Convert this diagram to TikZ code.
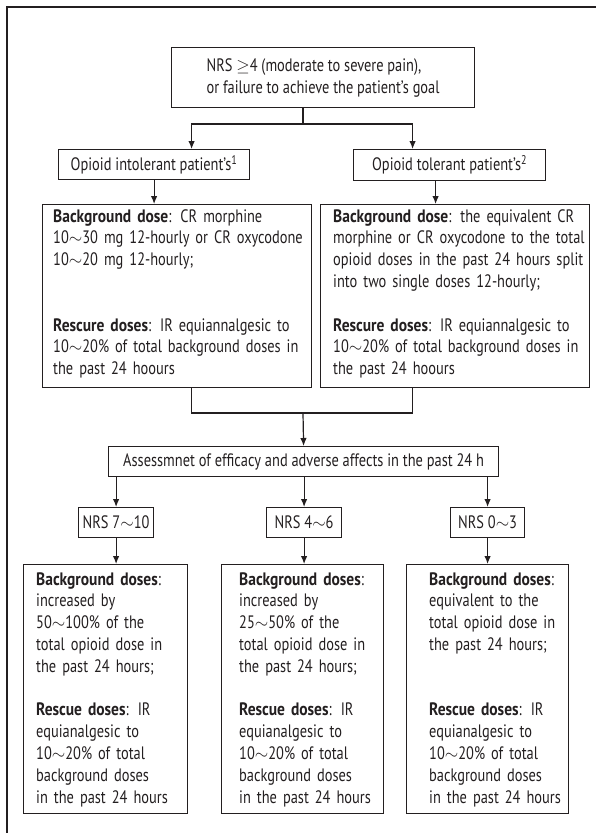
\documentclass[tikz,border=0pt]{standalone}
\usepackage{fontspec}
\setmainfont{PT Sans}[FakeStretch=0.80, BoldFeatures={FakeStretch=0.86}]
\usetikzlibrary{arrows.meta}
\definecolor{ink}{HTML}{231F20}
\newcommand\mytilde{\ensuremath{{\sim}}}
\hyphenpenalty=10000
\exhyphenpenalty=10000
\begin{document}
\begin{tikzpicture}[x=1pt,y=-1pt,
  box/.style={draw=ink, line width=1.2pt, inner sep=0pt, anchor=north west},
  txt/.style={inner sep=0pt, anchor=base west, text width=#1, align=left,
    font=\fontsize{18}{21.8}\selectfont, text=ink},
  lbl/.style={font=\fontsize{18}{22}\selectfont, text=ink},
  arr/.style={draw=ink, line width=1.2pt, -{Latex[length=8pt,width=6.5pt]}},
  con/.style={draw=ink, line width=1.2pt},
]
\useasboundingbox (0,0) rectangle (596,833);
\draw[line width=1.4pt, draw=ink] (7,834) -- (7,7) -- (597,7);

% top
\node[box, lbl, align=left, minimum width=303pt, minimum height=60pt] (top) at (171,47)
  {NRS \ensuremath{\geq}4 (moderate to severe pain),\\or failure to achieve the patient’s goal};

\node[box, lbl, minimum width=191pt, minimum height=30pt] (intol) at (58,149)
  {Opioid intolerant patient’s\textsuperscript{1}};
\node[box, lbl, minimum width=192pt, minimum height=31pt] (tol) at (353,149)
  {Opioid tolerant patient’s\textsuperscript{2}};

\coordinate (fork) at (303,124);
\draw[con] (top.south -| fork) -- (fork);
\draw[arr] (fork) -| ([xshift=37.5pt]intol.north);
\draw[arr] (fork) -| ([xshift=-37pt]tol.north);

% background boxes
\node[box, minimum width=269pt, minimum height=183pt] (bgL) at (42,204) {};
\node[box, minimum width=269pt, minimum height=183pt] (bgR) at (320,204) {};
\node[txt=264pt] (bgLt) at (53,222) {\textbf{Background dose}: CR morphine\\
10\mytilde30 mg 12-hourly or CR oxycodone\\
10\mytilde20 mg 12-hourly;\\[43.6pt]
\textbf{Rescure doses}: IR equiannalgesic to\\
10\mytilde20\% of total background doses in\\
the past 24 hoours};
\node[txt=260pt] (bgRt) at (333,222) {\textbf{Background dose}: the equivalent CR\\
morphine or CR oxycodone to the total\\
opioid doses in the past 24 hours split\\
into two single doses 12-hourly;\\[21.8pt]
\textbf{Rescure doses}: IR equiannalgesic to\\
10\mytilde20\% of total background doses in\\
the past 24 hoours};

\draw[arr] (intol.south) -- (intol.south |- bgL.north);
\draw[arr] ([xshift=-14pt]tol.south) -- ([xshift=-14pt]tol.south |- bgR.north);

% merge
\node[box, lbl, minimum width=390pt, minimum height=30pt] (assess) at (108,446)
  {Assessmnet of efficacy and adverse affects in the past 24 h};
\coordinate (merge) at (303,413);
\draw[con] ([xshift=14.5pt]bgL.south) |- (merge);
\draw[con] ([xshift=-42.5pt]bgR.south) |- (merge);
\draw[arr] (merge) -- (assess.north);

% NRS boxes
\node[box, lbl, minimum width=75pt, minimum height=30pt] (n1) at (78,507) {NRS 7\mytilde10};
\node[box, lbl, minimum width=75pt, minimum height=30pt] (n2) at (266,507) {NRS 4\mytilde6};
\node[box, lbl, minimum width=74pt, minimum height=30pt] (n3) at (450,507) {NRS 0\mytilde3};
\draw[arr] (assess.south -| n1.north) -- (n1.north);
\draw[arr] (assess.south -| n2.north) -- (n2.north);
\draw[arr] (assess.south -| n3.north) -- (n3.north);

% lower boxes
\node[box, minimum width=164pt, minimum height=249pt] (l1) at (23,564) {};
\node[box, minimum width=162pt, minimum height=249pt] (l2) at (221,564) {};
\node[box, minimum width=162pt, minimum height=249pt] (l3) at (406,564) {};
\draw[arr] (n1.south) -- (n1.south |- l1.north);
\draw[arr] (n2.south) -- (n2.south |- l2.north);
\draw[arr] (n3.south) -- (n3.south |- l3.north);

\node[txt=150pt] (l1t) at (36,585) {\textbf{Background doses}:\\
increased by\\
50\mytilde100\% of the\\
total opioid dose in\\
the past 24 hours;\\[21.8pt]
\textbf{Rescue doses}: IR\\
equianalgesic to\\
10\mytilde20\% of total\\
background doses\\
in the past 24 hours};
\node[txt=143pt] (l2t) at (239,585) {\textbf{Background doses}:\\
increased by\\
25\mytilde50\% of the\\
total opioid dose in\\
the past 24 hours;\\[21.8pt]
\textbf{Rescue doses}: IR\\
equianalgesic to\\
10\mytilde20\% of total\\
background doses\\
in the past 24 hours};
\node[txt=138pt] (l3t) at (429,585) {\textbf{Background doses}:\\
equivalent to the\\
total opioid dose in\\
the past 24 hours;\\[43.6pt]
\textbf{Rescue doses}: IR\\
equianalgesic to\\
10\mytilde20\% of total\\
background doses\\
in the past 24 hours};
\end{tikzpicture}
\end{document}
